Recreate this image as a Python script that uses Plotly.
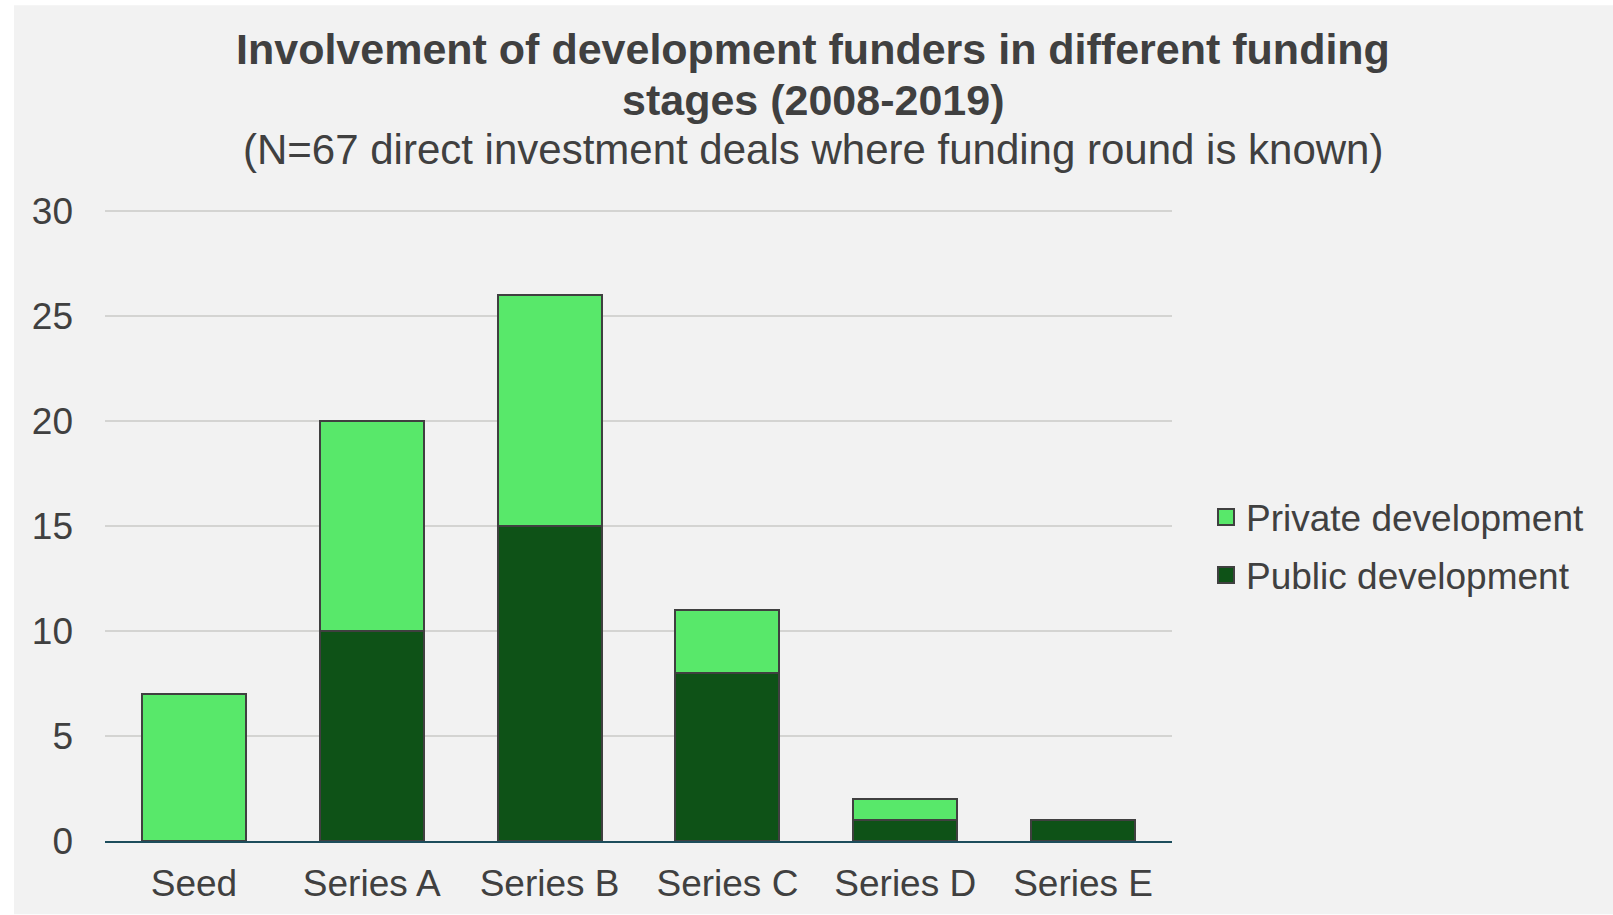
import plotly.graph_objects as go

categories = ["Seed", "Series A", "Series B", "Series C", "Series D", "Series E"]
public_dev = [0, 10, 15, 8, 1, 1]
private_dev = [7, 10, 11, 3, 1, 0]
y_ticks = [0, 5, 10, 15, 20, 25, 30]

title_line1 = "Involvement of development funders in different funding"
title_line2 = "stages (2008-2019)"
subtitle = "(N=67 direct investment deals where funding round is known)"

PRIVATE_C = "#58E86A"
PUBLIC_C = "#0E5217"
TEXT_C = "#404040"
FONT = "Liberation Sans, Arial, sans-serif"

W, H = 1613, 915
Y_MAX = 30.05
L, R, B = 105, 1172, 840.7
T = B - 21.0 * Y_MAX
pw, ph = R - L, B - T


def px_x(x):
    return (x - L) / pw


def px_y(y):
    return (B - y) / ph


fig = go.Figure()
fig.add_trace(go.Bar(x=categories, y=public_dev, name="Public development",
                     marker=dict(color=PUBLIC_C, line=dict(color="#404040", width=2)),
                     showlegend=False))
fig.add_trace(go.Bar(x=categories, y=private_dev, name="Private development",
                     marker=dict(color=PRIVATE_C, line=dict(color="#404040", width=2)),
                     showlegend=False))
# legend entries with larger square swatches
fig.add_trace(go.Scatter(x=[None], y=[None], mode="markers", name="Private development",
                         marker=dict(symbol="square", size=16, color=PRIVATE_C,
                                     line=dict(color="#404040", width=2)),
                         legendgroup="a", legendrank=1))
fig.add_trace(go.Scatter(x=[None], y=[None], mode="markers", name="Public development",
                         marker=dict(symbol="square", size=16, color=PUBLIC_C,
                                     line=dict(color="#404040", width=2)),
                         legendgroup="b", legendrank=2))

annos = [
    dict(text="<b>" + title_line1 + "</b>", y=px_y(48.5), size=43),
    dict(text="<b>" + title_line2 + "</b>", y=px_y(99.5), size=43),
    dict(text=subtitle, y=px_y(149.5), size=42),
]
for a in annos:
    fig.add_annotation(text=a["text"], xref="paper", yref="paper", x=px_x(813), y=a["y"],
                       xanchor="center", yanchor="middle", showarrow=False,
                       font=dict(family=FONT, size=a["size"], color=TEXT_C))

fig.update_layout(
    width=W, height=H,
    barmode="stack", bargap=0.416,
    paper_bgcolor="white", plot_bgcolor="rgba(0,0,0,0)",
    margin=dict(l=L, r=W - R, t=T, b=H - B, autoexpand=False),
    font=dict(family=FONT, size=37, color=TEXT_C),
    shapes=[dict(type="rect", xref="paper", yref="paper", layer="below",
                 x0=px_x(14), x1=px_x(1613), y0=px_y(914), y1=px_y(5),
                 fillcolor="#F2F2F2", line=dict(width=0))],
    legend=dict(x=px_x(1206), y=px_y(486), xanchor="left", yanchor="top",
                bgcolor="rgba(0,0,0,0)", font=dict(size=37, color=TEXT_C),
                traceorder="grouped", tracegroupgap=7, itemsizing="trace"),
    xaxis=dict(showline=True, linecolor="#1D4D5C", linewidth=2, showgrid=False,
               ticks="", ticklabelstandoff=9, tickfont=dict(size=37, color=TEXT_C),
               fixedrange=True),
    yaxis=dict(range=[0, Y_MAX], tickvals=y_ticks, showgrid=True, gridcolor="#D4D4D2",
               gridwidth=2, zeroline=False, showline=False, ticks="",
               ticklabelstandoff=31, tickfont=dict(size=37, color=TEXT_C)),
)

fig.write_html("out.html", config={"displayModeBar": False},
               post_script="document.body.style.margin='0';document.body.style.overflow='hidden';")
